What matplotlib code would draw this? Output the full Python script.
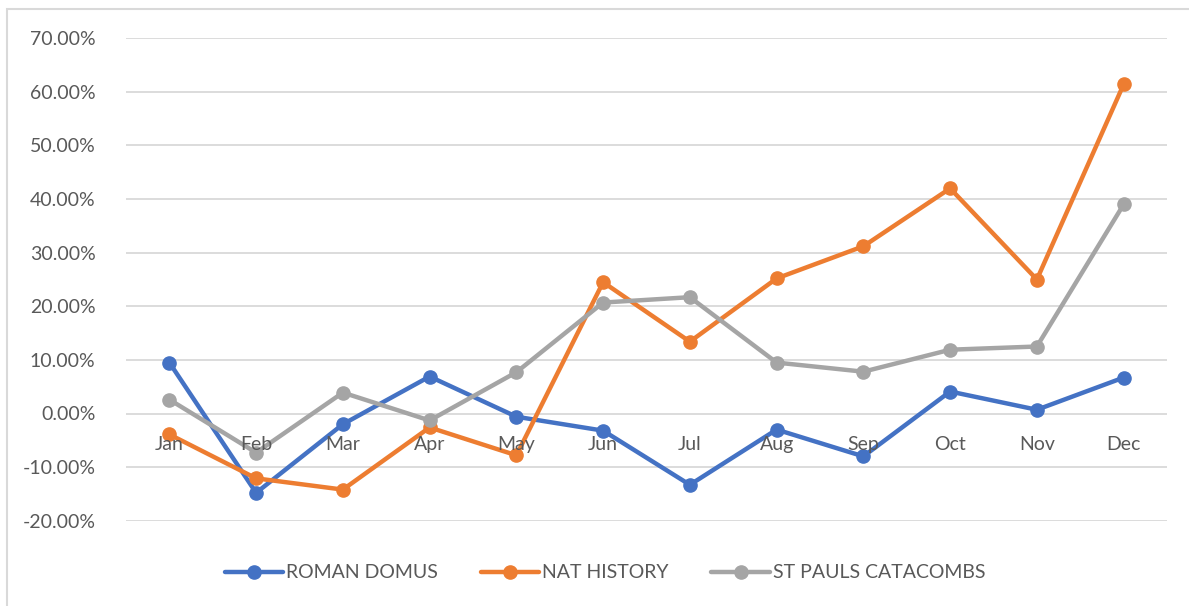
import matplotlib.pyplot as plt
import matplotlib.patches as mpatches
from matplotlib.ticker import FuncFormatter

plt.rcParams['font.family'] = ['Lato', 'DejaVu Sans']

months = ['Jan', 'Feb', 'Mar', 'Apr', 'May', 'Jun', 'Jul', 'Aug', 'Sep', 'Oct', 'Nov', 'Dec']
roman_domus = [9.5, -14.8, -2.0, 6.9, -0.6, -3.2, -13.3, -3.0, -8.0, 4.1, 0.7, 6.7]
nat_history = [-3.9, -12.1, -14.2, -2.6, -7.8, 24.5, 13.4, 25.2, 31.2, 42.0, 25.0, 61.4]
st_pauls = [2.6, -7.3, 3.9, -1.3, 7.7, 20.7, 21.7, 9.5, 7.8, 11.9, 12.5, 39.0]

series = [('ROMAN DOMUS', roman_domus, '#4472C4'),
          ('NAT HISTORY', nat_history, '#ED7D31'),
          ('ST PAULS CATACOMBS', st_pauls, '#A5A5A5')]

text_col = '#595959'

fig = plt.figure(figsize=(11.89, 6.06), dpi=100)
ax = fig.add_axes([126 / 1189, 85.3 / 606, (1167 - 126) / 1189, (567.7 - 85.3) / 606])

# chart border
fig.patches.append(mpatches.Rectangle((7 / 1189, -0.01), 1.0, 1 - 9 / 606 + 0.01,
                                      transform=fig.transFigure, fill=False,
                                      edgecolor='#D9D9D9', linewidth=1.5))

x = list(range(len(months)))
for name, vals, col in series:
    ax.plot(x, [v / 100 for v in vals], color=col, linewidth=3.2, marker='o',
            markersize=9.5, label=name, solid_capstyle='round')

ax.set_xlim(-0.5, 11.5)
ax.set_ylim(-0.2, 0.7)
ax.set_yticks([i / 10 for i in range(-2, 8)])
ax.yaxis.set_major_formatter(FuncFormatter(lambda v, p: f'{v * 100:.2f}%'))
ax.tick_params(axis='y', length=0, pad=22, labelsize=14, labelcolor=text_col)
ax.set_xticks([])
ax.grid(axis='y', color='#D9D9D9', linewidth=1.3)
ax.set_axisbelow(True)
for s in ax.spines.values():
    s.set_visible(False)

for i, m in enumerate(months):
    ax.annotate(m, (i, 0), xytext=(0, -31), textcoords='offset pixels',
                ha='center', va='center', fontsize=14, color=text_col)

fig.legend(loc='center', bbox_to_anchor=(605 / 1189, 1 - 573 / 606), ncol=3,
           frameon=False, fontsize=14, labelcolor=text_col, handlelength=3.0,
           handletextpad=0.15, columnspacing=2.2)

fig.savefig('out.png', dpi=100)
